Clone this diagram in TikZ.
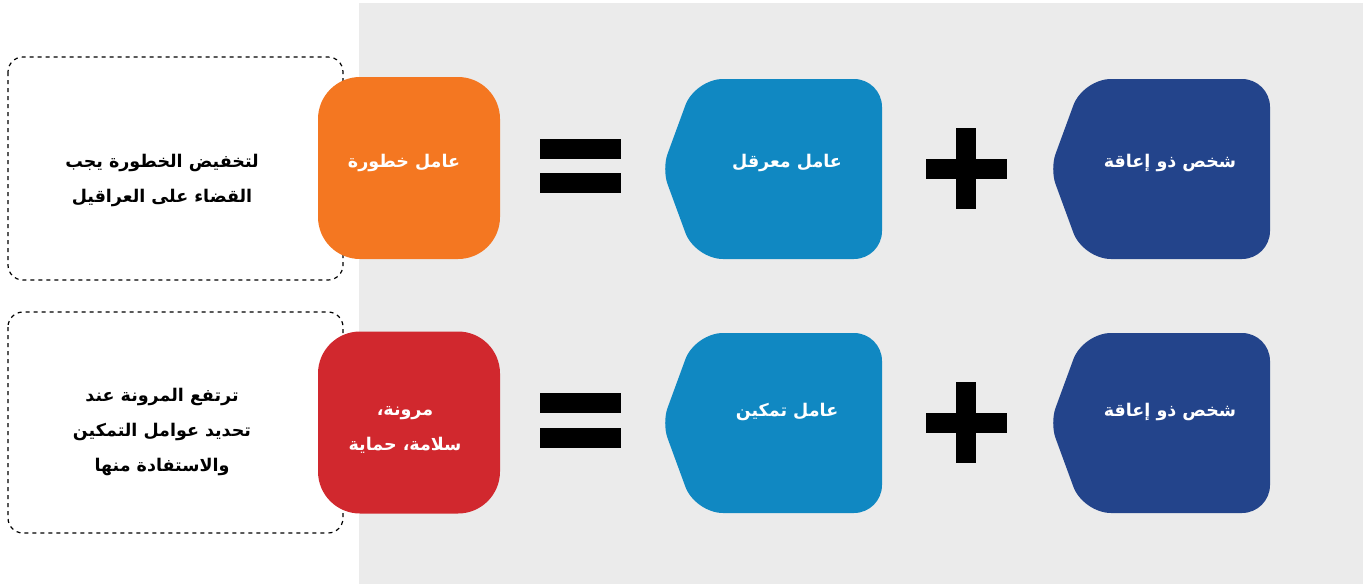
\documentclass[tikz,border=0pt]{standalone}
\usepackage{fontspec}
\newfontfamily\arabicfont[Script=Arabic]{DejaVu Sans}
\TeXXeTstate=1
\definecolor{bggrey}{HTML}{EBEBEB}
\definecolor{riskorange}{HTML}{F47721}
\definecolor{resred}{HTML}{D1282E}
\definecolor{lblue}{HTML}{1088C2}
\definecolor{dblue}{HTML}{23448B}
\begin{document}
\begin{tikzpicture}[x=1pt,y=-1pt,
  artext/.style={font=\arabicfont\bfseries\fontsize{17.5}{35}\selectfont, align=center, inner sep=0pt},
  whitetext/.style={artext, text=white},
  dashbox/.style={draw=black, line width=1.2pt, dash pattern=on 4pt off 4pt, rounded corners=15pt},
  squarebox/.style={rectangle, rounded corners=42pt, minimum width=182pt, minimum height=182pt, inner sep=0pt},
  chevron/.style={rounded corners=28pt},
  tipround/.style={rounded corners=16pt},
  symbolbar/.style={fill=black}]
\useasboundingbox (0,0) rectangle (1371,584);
\fill[bggrey] (359,3) rectangle (1363,584);
% dashed boxes
\draw[dashbox] (8,57) rectangle (343,280);
\draw[dashbox] (8,312) rectangle (343,533);
% left texts
\node[artext] (note1) at (162,180) {\beginR لتخفيض الخطورة يجب\endR\\\beginR القضاء على العراقيل\endR};
\node[artext] (note2) at (162,432) {\beginR ترتفع المرونة عند\endR\\\beginR تحديد عوامل التمكين\endR\\\beginR والاستفادة منها\endR};
% result boxes
\node[squarebox, fill=riskorange] (risk) at (409,168) {};
\node[whitetext] (riskt) at (404,163) {\beginR عامل خطورة\endR};
\node[squarebox, fill=resred] (res) at (409,422.5) {};
\node[whitetext] (rest) at (405,429.5) {\beginR مرونة،\endR\\\beginR سلامة، حماية\endR};
% equals signs
\fill[symbolbar] (540,139) rectangle (621,159);
\fill[symbolbar] (540,173) rectangle (621,193);
\fill[symbolbar] (540,393) rectangle (621,413);
\fill[symbolbar] (540,428) rectangle (621,448);
% light blue chevrons
\fill[lblue, chevron] (882,79) -- (695,79) [tipround] -- (662,169) [chevron] -- (695,259) -- (882,259) -- cycle;
\node[whitetext] (barrier) at (787,163) {\beginR عامل معرقل\endR};
\fill[lblue, chevron] (882,333) -- (695,333) [tipround] -- (662,423) [chevron] -- (695,513) -- (882,513) -- cycle;
\node[whitetext] (enabler) at (787,412) {\beginR عامل تمكين\endR};
% plus signs
\fill[symbolbar] (956,128) rectangle (976,209);
\fill[symbolbar] (926,159) rectangle (1007,179);
\fill[symbolbar] (956,382) rectangle (976,463);
\fill[symbolbar] (926,413) rectangle (1007,433);
% dark blue chevrons
\fill[dblue, chevron] (1270,79) -- (1083,79) [tipround] -- (1050,169) [chevron] -- (1083,259) -- (1270,259) -- cycle;
\node[whitetext] (person1) at (1170,163) {\beginR شخص ذو إعاقة\endR};
\fill[dblue, chevron] (1270,333) -- (1083,333) [tipround] -- (1050,423) [chevron] -- (1083,513) -- (1270,513) -- cycle;
\node[whitetext] (person2) at (1170,412) {\beginR شخص ذو إعاقة\endR};
\end{tikzpicture}
\end{document}
